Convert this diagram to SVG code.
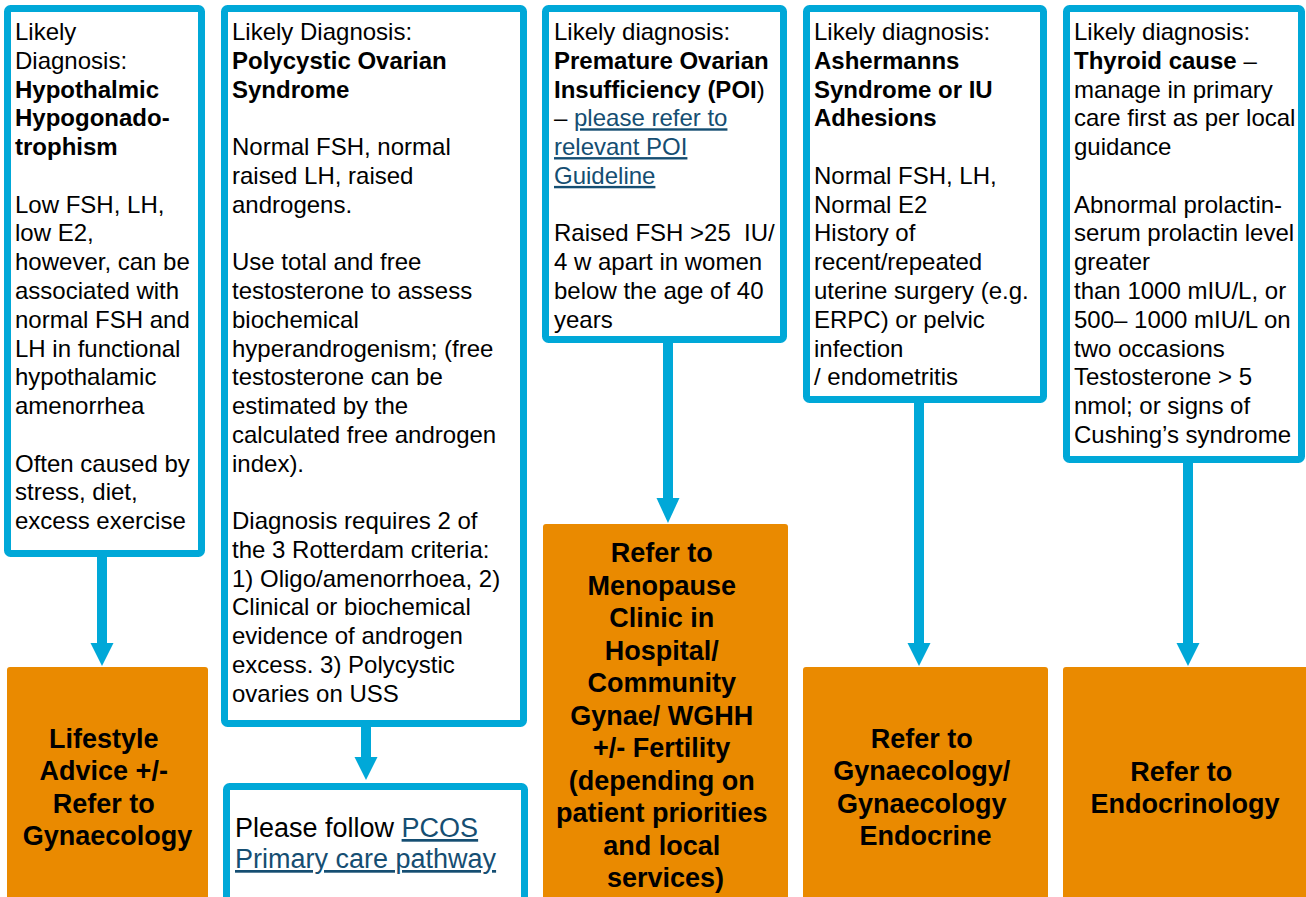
<svg xmlns="http://www.w3.org/2000/svg" width="1306" height="897" viewBox="0 0 1306 897">
<style>
.box{fill:#fff;stroke:#00A8D8;stroke-width:7}
.out{fill:#EA8A00}
.t{font-family:"Liberation Sans",Arial,sans-serif;font-size:24px;fill:#000}
.b{font-weight:bold}
.ot{font-family:"Liberation Sans",Arial,sans-serif;font-size:27px;font-weight:bold;fill:#000;text-anchor:middle}
.lk{fill:#154E72;text-decoration:underline}
.sh{stroke:#00A8D8;stroke-width:10;fill:none}
.hd{fill:#00A8D8}
</style>
<g id="connectors">
<line class="sh" x1="102" y1="557" x2="102" y2="645"/><polygon class="hd" points="90.5,643 113.5,643 102,666"/>
<line class="sh" x1="366" y1="727" x2="366" y2="759"/><polygon class="hd" points="354.5,757 377.5,757 366,780"/>
<line class="sh" x1="668" y1="343" x2="668" y2="500"/><polygon class="hd" points="656.5,498 679.5,498 668,523"/>
<line class="sh" x1="919" y1="403" x2="919" y2="645"/><polygon class="hd" points="907.5,643 930.5,643 919,666"/>
<line class="sh" x1="1188" y1="463" x2="1188" y2="645"/><polygon class="hd" points="1176.5,643 1199.5,643 1188,666"/>
</g>
<g id="hypo">
<rect class="box" x="7.5" y="8.5" width="194" height="545" rx="3"/>
<text class="t">
<tspan x="15" y="40">Likely</tspan>
<tspan x="15" y="68.8">Diagnosis:</tspan>
<tspan x="15" y="97.5" class="b">Hypothalmic</tspan>
<tspan x="15" y="126.3" class="b">Hypogonado-</tspan>
<tspan x="15" y="155.1" class="b">trophism</tspan>
<tspan x="15" y="212.6">Low FSH, LH,</tspan>
<tspan x="15" y="241.4">low E2,</tspan>
<tspan x="15" y="270.2">however, can be</tspan>
<tspan x="15" y="298.9">associated with</tspan>
<tspan x="15" y="327.7">normal FSH and</tspan>
<tspan x="15" y="356.5">LH in functional</tspan>
<tspan x="15" y="385.2">hypothalamic</tspan>
<tspan x="15" y="414">amenorrhea</tspan>
<tspan x="15" y="471.6">Often caused by</tspan>
<tspan x="15" y="500.3">stress, diet,</tspan>
<tspan x="15" y="529.1">excess exercise</tspan>
</text>
</g>
<g id="pcos">
<rect class="box" x="224.5" y="8.5" width="299" height="715" rx="3"/>
<text class="t">
<tspan x="232" y="40">Likely Diagnosis:</tspan>
<tspan x="232" y="68.8" class="b">Polycystic Ovarian</tspan>
<tspan x="232" y="97.5" class="b">Syndrome</tspan>
<tspan x="232" y="155.1">Normal FSH, normal</tspan>
<tspan x="232" y="183.9">raised LH, raised</tspan>
<tspan x="232" y="212.6">androgens.</tspan>
<tspan x="232" y="270.2">Use total and free</tspan>
<tspan x="232" y="298.9">testosterone to assess</tspan>
<tspan x="232" y="327.7">biochemical</tspan>
<tspan x="232" y="356.5">hyperandrogenism; (free</tspan>
<tspan x="232" y="385.2">testosterone can be</tspan>
<tspan x="232" y="414">estimated by the</tspan>
<tspan x="232" y="442.8">calculated free androgen</tspan>
<tspan x="232" y="471.6">index).</tspan>
<tspan x="232" y="529.1">Diagnosis requires 2 of</tspan>
<tspan x="232" y="557.9">the 3 Rotterdam criteria:</tspan>
<tspan x="232" y="586.6">1) Oligo/amenorrhoea, 2)</tspan>
<tspan x="232" y="615.4">Clinical or biochemical</tspan>
<tspan x="232" y="644.2">evidence of androgen</tspan>
<tspan x="232" y="673">excess. 3) Polycystic</tspan>
<tspan x="232" y="701.7">ovaries on USS</tspan>
</text>
</g>
<g id="pcos-pathway">
<rect class="box" x="226.5" y="786.5" width="298" height="140" rx="3"/>
<text class="t" style="font-size:27px">
<tspan x="235" y="837">Please follow <tspan class="lk">PCOS</tspan></tspan>
<tspan x="235" y="868" class="lk">Primary care pathway</tspan>
</text>
</g>
<g id="poi">
<rect class="box" x="545.5" y="8.5" width="238" height="331" rx="3"/>
<text class="t">
<tspan x="554" y="40">Likely diagnosis:</tspan>
<tspan x="554" y="68.8" class="b">Premature Ovarian</tspan>
<tspan x="554" y="97.5"><tspan class="b">Insufficiency (POI</tspan>)</tspan>
<tspan x="554" y="126.3">– <tspan class="lk">please refer to</tspan></tspan>
<tspan x="554" y="155.1" class="lk">relevant POI</tspan>
<tspan x="554" y="183.9" class="lk">Guideline</tspan>
<tspan x="554" y="241.4">Raised FSH &gt;25&#160; IU/</tspan>
<tspan x="554" y="270.2">4 w apart in women</tspan>
<tspan x="554" y="298.9">below the age of 40</tspan>
<tspan x="554" y="327.7">years</tspan>
</text>
</g>
<g id="asherman">
<rect class="box" x="806.5" y="8.5" width="237" height="391" rx="3"/>
<text class="t">
<tspan x="814" y="40">Likely diagnosis:</tspan>
<tspan x="814" y="68.8" class="b">Ashermanns</tspan>
<tspan x="814" y="97.5" class="b">Syndrome or IU</tspan>
<tspan x="814" y="126.3" class="b">Adhesions</tspan>
<tspan x="814" y="183.9">Normal FSH, LH,</tspan>
<tspan x="814" y="212.6">Normal E2</tspan>
<tspan x="814" y="241.4">History of</tspan>
<tspan x="814" y="270.2">recent/repeated</tspan>
<tspan x="814" y="298.9">uterine surgery (e.g.</tspan>
<tspan x="814" y="327.7">ERPC) or pelvic</tspan>
<tspan x="814" y="356.5">infection</tspan>
<tspan x="814" y="385.2">/ endometritis</tspan>
</text>
</g>
<g id="thyroid">
<rect class="box" x="1066.5" y="8.5" width="235" height="451" rx="3"/>
<text class="t">
<tspan x="1074" y="40">Likely diagnosis:</tspan>
<tspan x="1074" y="68.8"><tspan class="b">Thyroid cause</tspan> –</tspan>
<tspan x="1074" y="97.5">manage in primary</tspan>
<tspan x="1074" y="126.3">care first as per local</tspan>
<tspan x="1074" y="155.1">guidance</tspan>
<tspan x="1074" y="212.6">Abnormal prolactin-</tspan>
<tspan x="1074" y="241.4">serum prolactin level</tspan>
<tspan x="1074" y="270.2">greater</tspan>
<tspan x="1074" y="298.9">than 1000 mIU/L, or</tspan>
<tspan x="1074" y="327.7">500– 1000 mIU/L on</tspan>
<tspan x="1074" y="356.5">two occasions</tspan>
<tspan x="1074" y="385.2">Testosterone &gt; 5</tspan>
<tspan x="1074" y="414">nmol; or signs of</tspan>
<tspan x="1074" y="442.8">Cushing’s syndrome</tspan>
</text>
</g>
<g id="lifestyle">
<rect class="out" x="7" y="667" width="201" height="240" rx="3"/>
<text class="ot">
<tspan x="107.5" y="748">Lifestyle</tspan>
<tspan x="107.5" y="780.4">Advice +/-</tspan>
<tspan x="107.5" y="812.8">Refer to</tspan>
<tspan x="107.5" y="845.2">Gynaecology</tspan>
</text>
</g>
<g id="menopause">
<rect class="out" x="543" y="524" width="245" height="390" rx="3"/>
<text class="ot">
<tspan x="665.5" y="562">Refer to</tspan>
<tspan x="665.5" y="594.5">Menopause</tspan>
<tspan x="665.5" y="627">Clinic in</tspan>
<tspan x="665.5" y="659.5">Hospital/</tspan>
<tspan x="665.5" y="692">Community</tspan>
<tspan x="665.5" y="724.5">Gynae/ WGHH</tspan>
<tspan x="665.5" y="757">+/- Fertility</tspan>
<tspan x="665.5" y="789.5">(depending on</tspan>
<tspan x="665.5" y="822">patient priorities</tspan>
<tspan x="665.5" y="854.5">and local</tspan>
<tspan x="665.5" y="887">services)</tspan>
</text>
</g>
<g id="gynae">
<rect class="out" x="803" y="667" width="245" height="240" rx="3"/>
<text class="ot">
<tspan x="925.5" y="748">Refer to</tspan>
<tspan x="925.5" y="780.4">Gynaecology/</tspan>
<tspan x="925.5" y="812.8">Gynaecology</tspan>
<tspan x="925.5" y="845.2">Endocrine</tspan>
</text>
</g>
<g id="endo">
<rect class="out" x="1063" y="667" width="245" height="240" rx="3"/>
<text class="ot">
<tspan x="1185" y="780.5">Refer to</tspan>
<tspan x="1185" y="812.5">Endocrinology</tspan>
</text>
</g>
</svg>
